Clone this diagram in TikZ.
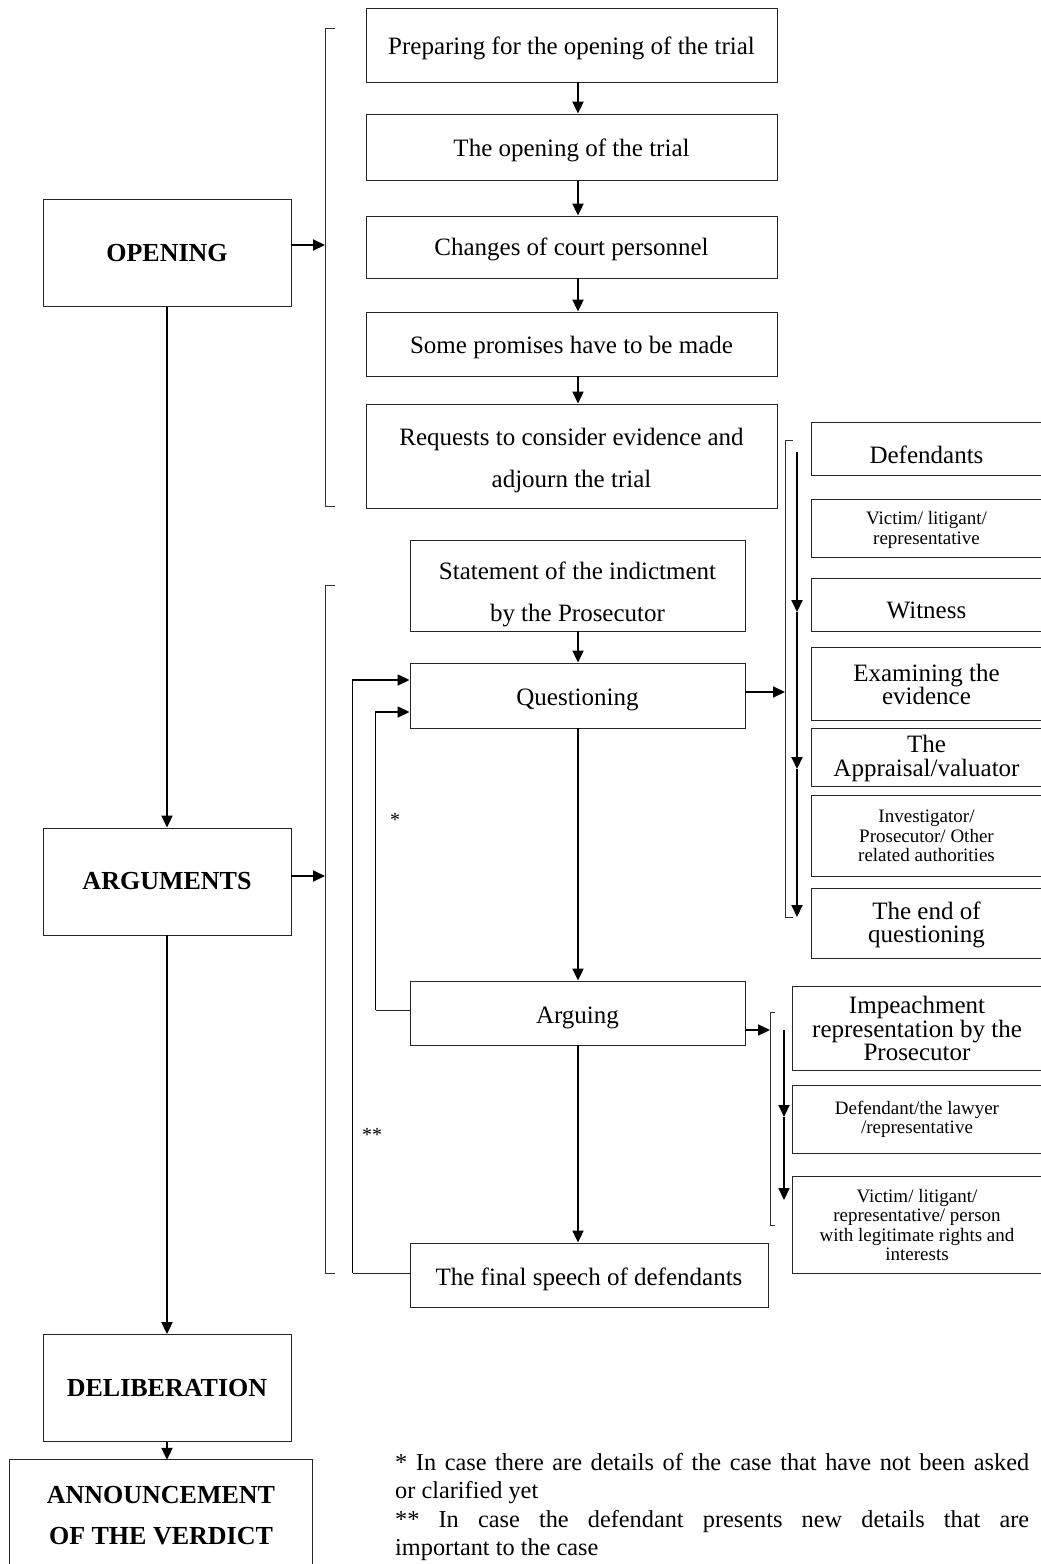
\documentclass[tikz,border=0pt]{standalone}
\usepackage{fontspec}
\setmainfont{Liberation Serif}
\usetikzlibrary{arrows.meta,calc}
\newcommand{\lowr}[2]{\raisebox{-#1}[\height][\depth]{#2}}
\begin{document}
\begin{tikzpicture}[x=1pt,y=-1pt,
  line/.style={draw=black!85,line width=0.9pt},
  bx/.style={line,inner sep=0pt,align=center,font=\fontsize{25}{42}\selectfont},
  big/.style={bx,font=\fontsize{26}{41}\selectfont\bfseries,minimum width=248pt,minimum height=107pt},
  ob/.style={inner sep=0pt,align=center},
  f25/.style={font=\fontsize{25}{23}\selectfont},
  f18/.style={font=\fontsize{19}{19.5}\selectfont},
  arr/.style={-{Triangle[length=12pt,width=11pt]},line width=2pt,black},
  brk/.style={draw=black!80,line width=0.9pt}]
\useasboundingbox (0,0) rectangle (1041,1564);
\coordinate (cx) at (578,0);

% left column
\node[big] (open) at (167,253) {OPENING};
\node[big] (args) at (167,881.5) {ARGUMENTS};
\node[big] (delib) at (167,1388) {DELIBERATION};
\node[ob,font=\fontsize{26}{41}\selectfont\bfseries,minimum width=302pt,minimum height=104pt] (ann) at (161,1512) {\lowr{4pt}{\begin{tabular}{@{}c@{}}ANNOUNCEMENT\\OF THE VERDICT\end{tabular}}};
\draw[line] (ann.south west) -- (ann.north west) -- (ann.north east) -- (ann.south east);

\draw[arr] (open.south) -- (args.north);
\draw[arr] (args.south) -- (delib.north);
\draw[arr] (delib.south) -- (delib.south |- ann.north);

% opening steps
\node[bx,minimum width=411pt,minimum height=74pt] (b1) at (571.5,45) {\lowr{3pt}{Preparing for the opening of the trial}};
\node[bx,minimum width=411pt,minimum height=66pt] (b2) at (571.5,147) {\lowr{3pt}{The opening of the trial}};
\node[bx,minimum width=411pt,minimum height=62pt] (b3) at (571.5,247) {\lowr{2pt}{Changes of court personnel}};
\node[bx,minimum width=411pt,minimum height=64pt] (b4) at (571.5,344) {\lowr{3pt}{Some promises have to be made}};
\node[bx,minimum width=411pt,minimum height=104pt] (b5) at (571.5,456) {\lowr{2pt}{\begin{tabular}{@{}c@{}}Requests to consider evidence and\\adjourn the trial\end{tabular}}};
\draw[arr] (b1.south -| cx) -- (b2.north -| cx);
\draw[arr] (b2.south -| cx) -- (b3.north -| cx);
\draw[arr] (b3.south -| cx) -- (b4.north -| cx);
\draw[arr] (b4.south -| cx) -- (b5.north -| cx);

\draw[brk] (335,28) -- (325,28) -- (325,506) -- (335,506);
\coordinate (br1) at (325,245);
\draw[arr] ([yshift=8pt]open.east) -- (br1);

% arguments steps
\node[bx,minimum width=335pt,minimum height=91pt] (stmt) at (577.5,585.5) {\lowr{7pt}{\begin{tabular}{@{}c@{}}Statement of the indictment\\by the Prosecutor\end{tabular}}};
\node[bx,minimum width=335pt,minimum height=65pt] (quest) at (577.5,695.5) {\lowr{4pt}{Questioning}};
\node[bx,minimum width=335pt,minimum height=64pt] (argu) at (577.5,1013) {\lowr{5pt}{Arguing}};
\node[bx,minimum width=358pt,minimum height=64pt] (final) at (589,1275) {\lowr{4pt}{The final speech of defendants}};
\draw[arr] (stmt.south -| cx) -- (quest.north -| cx);
\draw[arr] (quest.south -| cx) -- (argu.north -| cx);
\draw[arr] (argu.south -| cx) -- (final.north -| cx);

\draw[brk] (335,585) -- (325,585) -- (325,1273) -- (335,1273);
\coordinate (br2) at (325,876);
\draw[arr] ([yshift=5.5pt]args.east) -- (br2);

% feedback loops
\draw[line] ([yshift=3pt]argu.west) -- ++(-34,0) coordinate (l1);
\draw[arr,line width=1.5pt] (l1) |- ([yshift=-16.5pt]quest.west);
\draw[line] ([yshift=2pt]final.west) -- ++(-57,0) coordinate (l2);
\draw[arr,line width=1.5pt] (l2) |- ([yshift=15.5pt]quest.west);
\node[ob,font=\fontsize{20}{20}\selectfont] (s1) at (395,820) {*};
\node[ob,font=\fontsize{20}{20}\selectfont] (s2) at (372,1135) {**};

% questioning sub-steps
\draw[brk] (793,440) -- (785,440) -- (785,917) -- (793,917);
\coordinate (br3) at (785,692);
\draw[arr] ([yshift=3.5pt]quest.east) -- (br3);
\coordinate (q0) at (797,452);
\coordinate (q1) at (797,612);
\coordinate (q2) at (797,769);
\coordinate (q3) at (797,917);
\draw[arr] (q0) -- (q1);
\draw[arr] (q1) -- (q2);
\draw[arr] (q2) -- (q3);

\node[ob,f25,minimum width=229pt,minimum height=52pt] (r1) at (926.5,449) {\lowr{6pt}{Defendants}};
\node[ob,f18,minimum width=229pt,minimum height=57pt] (r2) at (926.5,528.5) {\lowr{2pt}{\begin{tabular}{@{}c@{}}Victim/ litigant/\\representative\end{tabular}}};
\node[ob,f25,minimum width=229pt,minimum height=52pt] (r3) at (926.5,605) {\lowr{5pt}{Witness}};
\node[ob,f25,minimum width=229pt,minimum height=72pt] (r4) at (926.5,684) {Examining the\\evidence};
\node[ob,f25,minimum width=229pt,minimum height=57pt] (r5) at (926.5,757.5) {\lowr{2pt}{\begin{tabular}{@{}c@{}}The\\Appraisal/valuator\end{tabular}}};
\node[ob,f18,minimum width=229pt,minimum height=80pt] (r6) at (926.5,836) {Investigator/\\Prosecutor/ Other\\related authorities};
\node[ob,f25,minimum width=229pt,minimum height=69pt] (r7) at (926.5,923.5) {\lowr{2pt}{\begin{tabular}{@{}c@{}}The end of\\questioning\end{tabular}}};
\foreach \n in {r1,r2,r3,r4,r5,r6,r7}
  \draw[line] (\n.north east) -- (\n.north west) -- (\n.south west) -- (\n.south east);

% arguing sub-steps
\draw[brk] (775,1012) -- (770,1012) -- (770,1225) -- (775,1225);
\coordinate (br4) at (770,1030);
\draw[arr] ([yshift=-17pt]argu.east) -- (br4);
\coordinate (a0) at (784,1030);
\coordinate (a1) at (784,1117);
\coordinate (a2) at (784,1200);
\draw[arr] (a0) -- (a1);
\draw[arr] (a1) -- (a2);

\node[ob,font=\fontsize{25}{21}\selectfont,minimum width=248pt,minimum height=83pt] (s1b) at (917,1028.5) {Impeachment\\representation by the\\Prosecutor};
\node[ob,f18,minimum width=248pt,minimum height=67pt] (s2b) at (917,1119.5) {Defendant/the lawyer\\/representative};
\node[ob,f18,minimum width=248pt,minimum height=96pt] (s3b) at (917,1225) {Victim/ litigant/\\representative/ person\\with legitimate rights and\\interests};
\foreach \n in {s1b,s2b,s3b}
  \draw[line] (\n.north east) -- (\n.north west) -- (\n.south west) -- (\n.south east);

% footnotes
\node[ob,anchor=north west,text width=634pt,align=justify,font=\fontsize{24.3}{28.5}\selectfont] (notes) at (395,1453)
 {* In case there are details of the case that have not been asked\linebreak
 or clarified yet\par
 {}** In case the defendant presents new details that are\linebreak
 important to the case};
\end{tikzpicture}
\end{document}
